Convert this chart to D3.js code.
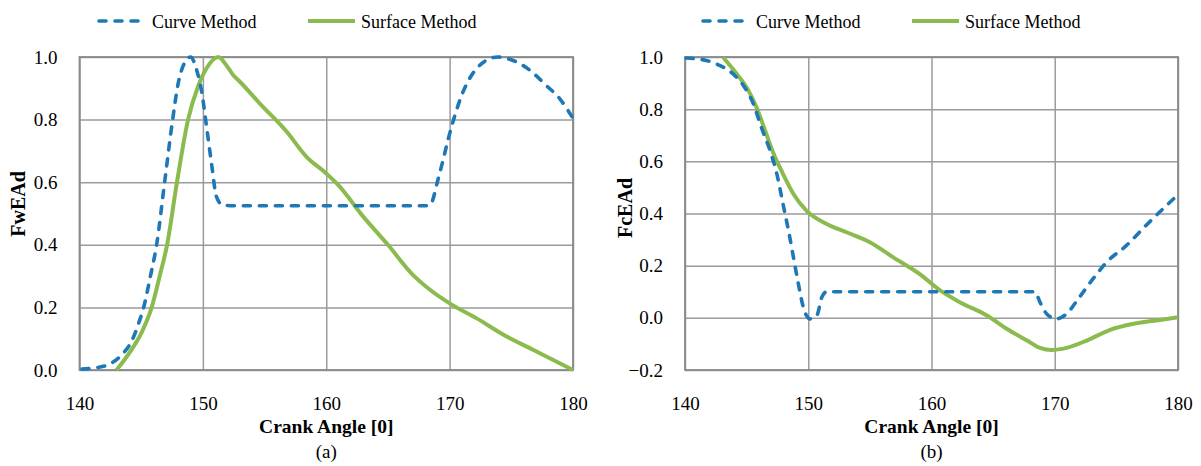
<!DOCTYPE html>
<html>
<head>
<meta charset="utf-8">
<script src="https://cdn.jsdelivr.net/npm/d3@7/dist/d3.min.js"></script>
<style>
  html, body { margin: 0; padding: 0; background: #fff; }
  svg { display: block; }
  text { font-family: "Liberation Serif", "Times New Roman", serif; fill: #000; }
</style>
</head>
<body>
<svg id="chart" width="1201" height="466"></svg>
<script>
// Crank angle ticks and series labels
const angleTicks = [140, 150, 160, 170, 180];
const seriesNames = ["Curve Method", "Surface Method"];

// (a) FwEAd
const fwTicks = [0.0, 0.2, 0.4, 0.6, 0.8, 1.0];
const fwCurveAngle = [140.2, 141.5, 142.5, 143.4, 144.2, 144.8, 145.2, 145.75, 146.25, 146.9, 147.55, 148.0, 148.5, 149.0, 149.5, 149.9, 150.3, 150.7, 151.1, 151.6, 152.5, 160.0, 168.3, 168.6, 169.0, 169.4, 169.9, 170.4, 171.0, 171.6, 172.3, 173.0, 173.9, 175.2, 176.5, 177.8, 178.9, 180.0];
const fwCurveValue = [0.003, 0.008, 0.02, 0.048, 0.09, 0.15, 0.2, 0.3, 0.4, 0.6, 0.8, 0.916, 0.98, 1.0, 0.958, 0.89, 0.777, 0.66, 0.554, 0.527, 0.525, 0.525, 0.525, 0.54, 0.6, 0.66, 0.74, 0.81, 0.88, 0.93, 0.968, 0.99, 1.0, 0.988, 0.958, 0.91, 0.868, 0.804];
const fwSurfaceAngle = [143.0, 144.1, 145.0, 145.85, 146.5, 147.1, 147.9, 148.8, 149.6, 150.3, 151.25, 151.9, 152.5, 153.0, 154.6, 156.8, 158.4, 160.0, 161.0, 163.0, 165.0, 167.0, 168.1, 170.0, 172.2, 174.4, 176.8, 180.0];
const fwSurfaceValue = [0.0, 0.058, 0.117, 0.2, 0.3, 0.4, 0.6, 0.8, 0.905, 0.964, 1.0, 0.974, 0.94, 0.921, 0.852, 0.761, 0.681, 0.628, 0.59, 0.49, 0.4, 0.305, 0.266, 0.213, 0.165, 0.112, 0.064, 0.0];

// (b) FcEAd
const fcTicks = [-0.2, 0.0, 0.2, 0.4, 0.6, 0.8, 1.0];
const fcCurveAngle = [140.1, 141.8, 142.85, 143.9, 144.75, 145.55, 146.2, 146.9, 147.45, 147.95, 148.4, 148.8, 149.2, 149.6, 150.15, 150.7, 151.1, 151.5, 152.5, 160.0, 168.4, 168.8, 169.35, 170.15, 170.95, 172.0, 173.1, 174.2, 175.8, 177.4, 179.05, 180.0];
const fcCurveValue = [0.996, 0.986, 0.967, 0.935, 0.89, 0.82, 0.73, 0.641, 0.552, 0.437, 0.334, 0.232, 0.13, 0.041, -0.004, 0.009, 0.079, 0.1, 0.1, 0.1, 0.1, 0.06, 0.015, -0.004, 0.015, 0.079, 0.149, 0.213, 0.277, 0.354, 0.43, 0.472];
const fcSurfaceAngle = [143.1, 144.2, 145.15, 145.8, 146.5, 147.15, 147.95, 148.8, 149.85, 151.5, 153.1, 155.0, 156.9, 159.1, 160.7, 162.3, 164.5, 166.1, 167.75, 168.8, 169.75, 170.95, 172.6, 174.5, 176.4, 178.55, 180.0];
const fcSurfaceValue = [0.998, 0.935, 0.871, 0.807, 0.718, 0.634, 0.552, 0.475, 0.411, 0.36, 0.328, 0.29, 0.232, 0.166, 0.105, 0.06, 0.009, -0.042, -0.087, -0.115, -0.123, -0.115, -0.087, -0.046, -0.023, -0.008, 0.002];

const BLUE = "#1f78b6";
const GREEN = "#8bbb4e";
const GRID = "#9b9b9b";
const FONT = "Liberation Serif";

const svg = d3.select("#chart");

function zip(a, v) { return a.map((x, i) => ({ a: x, v: v[i] })); }

function panel(opts) {
  const g = svg.append("g");
  const x = d3.scaleLinear().domain([140, 180]).range([opts.x0, opts.x1]);
  const y = d3.scaleLinear().domain([opts.ticks[0], opts.ticks[opts.ticks.length - 1]]).range([370, 57]);

  // horizontal grid
  g.append("g").attr("transform", `translate(${opts.x0},0)`)
    .call(d3.axisLeft(y).tickValues(opts.ticks).tickSize(-(opts.x1 - opts.x0)).tickFormat(""))
    .call(s => s.select(".domain").remove())
    .call(s => s.selectAll("line").attr("stroke", GRID).attr("stroke-width", 1.5));
  // vertical grid
  g.append("g").attr("transform", `translate(0,370)`)
    .call(d3.axisBottom(x).tickValues(angleTicks).tickSize(-313).tickFormat(""))
    .call(s => s.select(".domain").remove())
    .call(s => s.selectAll("line").attr("stroke", GRID).attr("stroke-width", 1.5));
  // frame
  g.append("rect").attr("x", opts.x0).attr("y", 57)
    .attr("width", opts.x1 - opts.x0).attr("height", 313)
    .attr("fill", "none").attr("stroke", "#8a8a8a").attr("stroke-width", 1.8);

  // y tick labels
  g.append("g").attr("transform", `translate(${opts.x0 - 19},0)`)
    .call(d3.axisLeft(y).tickValues(opts.ticks).tickSize(0).tickFormat(d3.format(".1f")))
    .call(s => s.select(".domain").remove())
    .call(s => s.selectAll("text").attr("font-size", 19).attr("font-family", FONT).attr("fill", "#000"));
  // x tick labels
  g.append("g").attr("transform", `translate(0,393)`)
    .call(d3.axisBottom(x).tickValues(angleTicks).tickSize(0).tickFormat(d3.format("d")))
    .call(s => s.select(".domain").remove())
    .call(s => s.selectAll("text").attr("font-size", 19).attr("font-family", FONT).attr("fill", "#000"));

  // axis titles
  g.append("text").attr("transform", `translate(${opts.yTitleX},${opts.yTitleY}) rotate(-90)`)
    .attr("text-anchor", "middle").attr("dy", "0.35em")
    .attr("font-size", 20).attr("font-weight", "bold").text(opts.yTitle);
  const cx = (opts.x0 + opts.x1) / 2;
  g.append("text").attr("x", cx).attr("y", 433).attr("text-anchor", "middle")
    .attr("font-size", 19.5).attr("font-weight", "bold").text("Crank Angle [0]");
  g.append("text").attr("x", cx).attr("y", 458).attr("text-anchor", "middle")
    .attr("font-size", 19).text(opts.caption);

  const line = d3.line().x(d => x(d.a)).y(d => y(d.v)).curve(d3.curveMonotoneX);
  g.append("path").datum(opts.surface).attr("d", line)
    .attr("fill", "none").attr("stroke", GREEN).attr("stroke-width", 4).attr("stroke-linejoin", "round");
  g.append("path").datum(opts.curve).attr("d", line)
    .attr("fill", "none").attr("stroke", BLUE).attr("stroke-width", 3.6)
    .attr("stroke-dasharray", "7,9").attr("stroke-linecap", "round");

  // legend
  const lg = g.append("g");
  lg.append("line").attr("x1", opts.legX + 2).attr("x2", opts.legX + 44).attr("y1", 21).attr("y2", 21)
    .attr("stroke", BLUE).attr("stroke-width", 3.6).attr("stroke-dasharray", "7,9").attr("stroke-linecap", "round");
  lg.append("text").attr("x", opts.legX + 55).attr("y", 28).attr("font-size", 18).text(seriesNames[0]);
  lg.append("line").attr("x1", opts.legX + 211).attr("x2", opts.legX + 258).attr("y1", 21).attr("y2", 21)
    .attr("stroke", GREEN).attr("stroke-width", 4);
  lg.append("text").attr("x", opts.legX + 264).attr("y", 28).attr("font-size", 18).text(seriesNames[1]);
}

panel({
  x0: 79.5, x1: 573, ticks: fwTicks, yTitle: "FwEAd", yTitleX: 18, yTitleY: 204, caption: "(a)", legX: 97,
  curve: zip(fwCurveAngle, fwCurveValue), surface: zip(fwSurfaceAngle, fwSurfaceValue)
});
panel({
  x0: 685, x1: 1178, ticks: fcTicks, yTitle: "FcEAd", yTitleX: 625, yTitleY: 208, caption: "(b)", legX: 701,
  curve: zip(fcCurveAngle, fcCurveValue), surface: zip(fcSurfaceAngle, fcSurfaceValue)
});
</script>
</body>
</html>
